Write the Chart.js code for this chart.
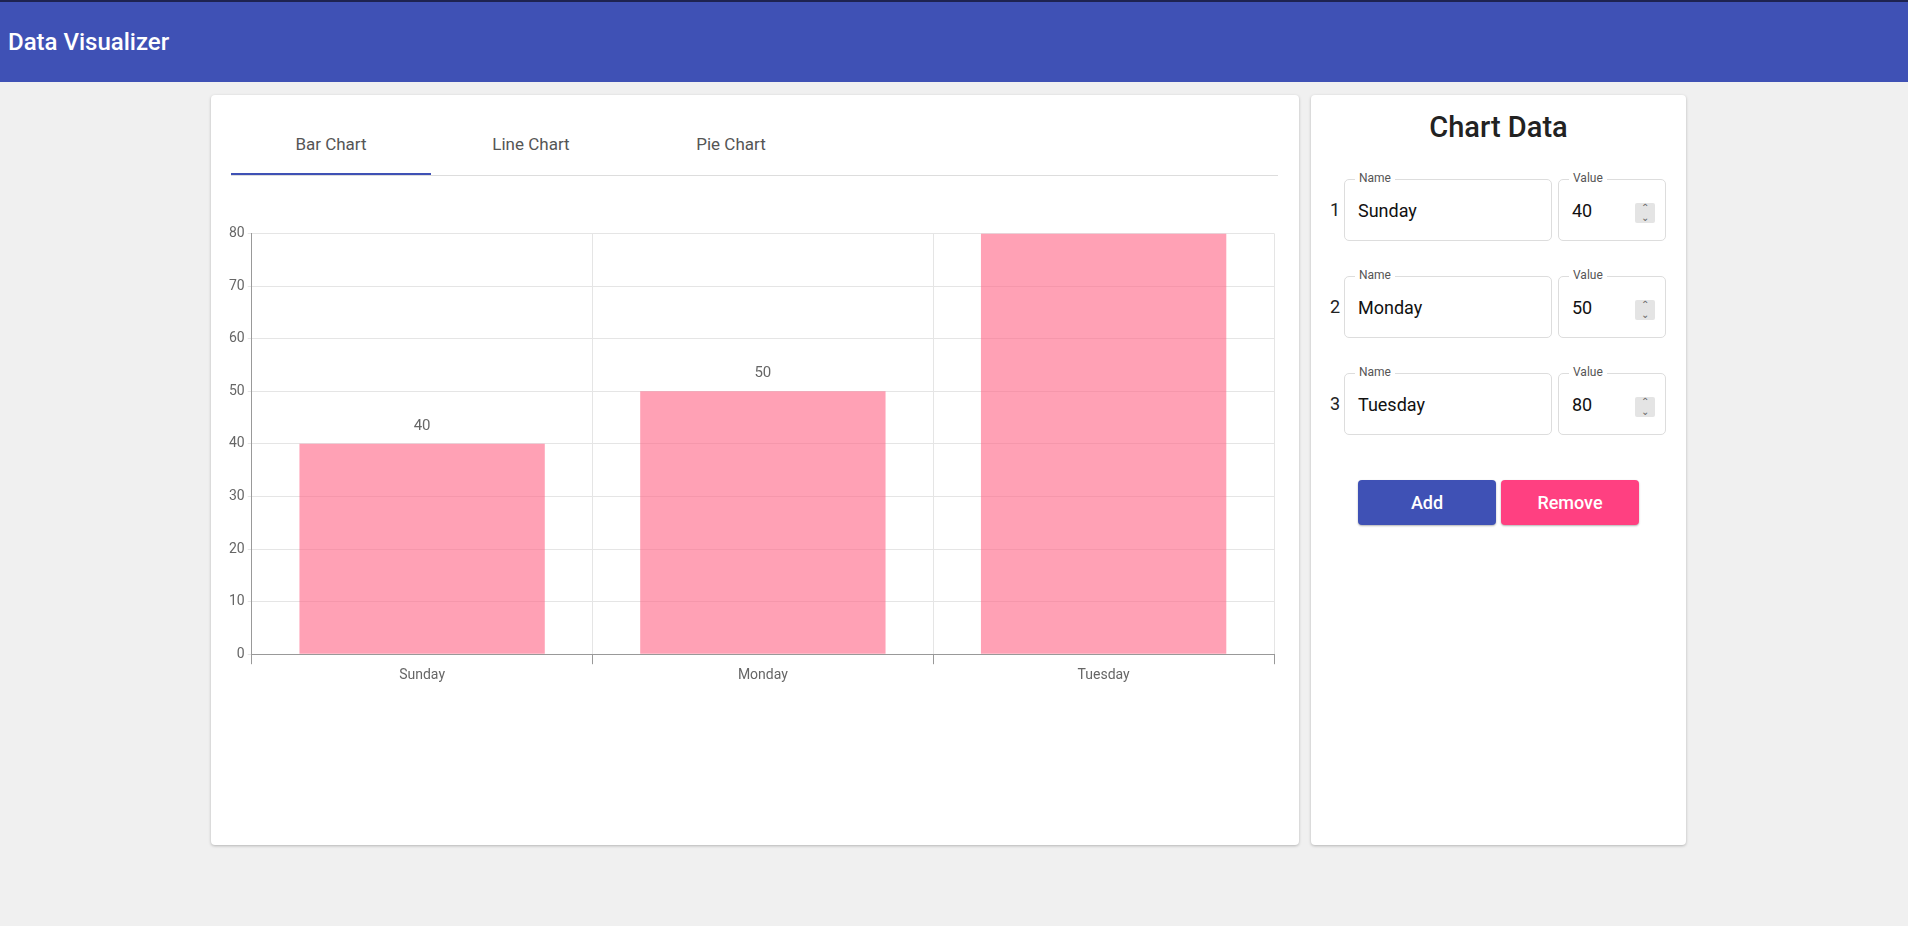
<!DOCTYPE html>
<html>
<head>
<meta charset="utf-8">
<script src="https://cdn.jsdelivr.net/npm/chart.js@4"></script>
<style>
  body { margin: 0; background: #f0f0f0; font-family: Roboto, sans-serif; width: 1908px; height: 926px; overflow: hidden; }
  .bar { position: absolute; left: 0; top: 0; width: 1908px; height: 82px; background: #3f51b5; border-top: 2px solid #1e2350; box-sizing: border-box; }
  .bar h1 { margin: 0; position: absolute; left: 8px; top: 26px; color: #fff; font-size: 24px; font-weight: 500; }
  .card { position: absolute; background: #fff; border-radius: 4px; box-shadow: 0 1px 3px rgba(0,0,0,0.25); }
  .tab { position: absolute; top: 134px; width: 200px; text-align: center; font-size: 17px; color: #555; }
  .num { position: absolute; font-size: 18px; color: #222; }
  .field { position: absolute; border: 1px solid #ddd; border-radius: 5px; height: 62px; box-sizing: border-box; }
  .field .lb { position: absolute; top: -9px; left: 10px; background: #fff; padding: 0 4px; font-size: 12px; color: #555; }
  .field .v { position: absolute; left: 13px; top: 20px; font-size: 18px; color: #111; }
  .spin { position: absolute; right: 10px; top: 23px; width: 20px; height: 20px; background: #e4e4e4; border-radius: 2px; font-size: 10px; color: #666; text-align: center; line-height: 10px; }
  .btn { position: absolute; top: 480px; width: 138px; height: 45px; border-radius: 4px; color: #fff; font-size: 18px; font-weight: 500; text-align: center; line-height: 45px; box-shadow: 0 1px 2px rgba(0,0,0,0.3); }
</style>
</head>
<body>
<div class="bar"><h1>Data Visualizer</h1></div>

<div class="card" style="left:211px;top:95px;width:1088px;height:750px;"></div>
<div class="tab" style="left:231px;">Bar Chart</div>
<div class="tab" style="left:431px;">Line Chart</div>
<div class="tab" style="left:631px;">Pie Chart</div>
<div style="position:absolute;left:231px;top:175px;width:1047px;height:1px;background:#ddd;"></div>
<div style="position:absolute;left:231px;top:173px;width:200px;height:2px;background:#3f51b5;"></div>
<div style="position:absolute;left:226px;top:222px;width:1052px;height:465px;"><canvas id="chart"></canvas></div>

<div class="card" style="left:1311px;top:95px;width:375px;height:750px;"></div>
<div style="position:absolute;left:1311px;width:375px;top:110px;text-align:center;font-size:29px;font-weight:500;color:#222;">Chart Data</div>
<div id="rows"></div>
<div class="btn" style="left:1358px;background:#3f51b5;">Add</div>
<div class="btn" style="left:1501px;background:#ff4081;">Remove</div>

<script>
var categories = ['Sunday', 'Monday', 'Tuesday'];
var values = [40, 50, 80];
var yTicks = [0, 10, 20, 30, 40, 50, 60, 70, 80];

var rowsHtml = '';
categories.forEach(function(name, i) {
  var top = 179 + i * 97;
  rowsHtml += `
    <div class="num" style="left:1330px;top:${top + 20}px;">${i + 1}</div>
    <div class="field" style="left:1344px;top:${top}px;width:208px;"><span class="lb">Name</span><span class="v">${name}</span></div>
    <div class="field" style="left:1558px;top:${top}px;width:108px;"><span class="lb">Value</span><span class="v">${values[i]}</span><div class="spin">&#8963;<br>&#8964;</div></div>`;
});
document.getElementById('rows').innerHTML = rowsHtml;

// labels drawn above each bar, positions from the bar elements
var valueLabels = {
  id: 'valueLabels',
  afterDatasetsDraw: function(chart) {
    var ctx = chart.ctx;
    var meta = chart.getDatasetMeta(0);
    ctx.save();
    ctx.font = '15px Roboto';
    ctx.fillStyle = '#666';
    ctx.textAlign = 'center';
    ctx.textBaseline = 'bottom';
    meta.data.forEach(function(bar, i) {
      if (bar.y - 30 < chart.chartArea.top) return;
      ctx.fillText(values[i], bar.x, bar.y - 10);
    });
    ctx.restore();
  }
};

new Chart(document.getElementById('chart'), {
  type: 'bar',
  data: {
    labels: categories,
    datasets: [{
      data: values,
      backgroundColor: 'rgba(255, 99, 132, 0.6)',
      borderWidth: 0
    }]
  },
  options: {
    responsive: true,
    maintainAspectRatio: false,
    animation: false,
    layout: { padding: { top: 8, right: 4 } },
    plugins: { legend: { display: false }, tooltip: { enabled: false } },
    scales: {
      x: {
        grid: { color: '#e5e5e5', offset: true, tickColor: '#999', tickLength: 10 },
        border: { color: '#999' },
        ticks: { color: '#666', font: { size: 14, family: 'Roboto' } }
      },
      y: {
        min: 0, max: 80,
        afterBuildTicks: function(axis) { axis.ticks = yTicks.map(function(v) { return { value: v }; }); },
        grid: { color: '#e5e5e5', tickLength: 4 },
        border: { color: '#999' },
        ticks: { color: '#666', font: { size: 14, family: 'Roboto' } }
      }
    }
  },
  plugins: [valueLabels]
});
</script>
</body>
</html>
